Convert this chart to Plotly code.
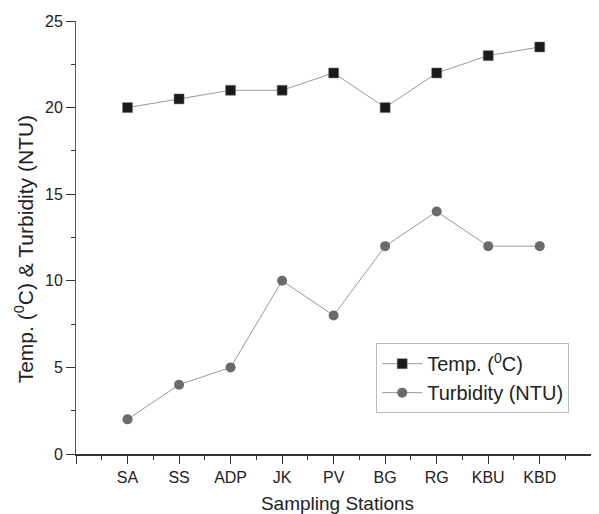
import plotly.graph_objects as go

stations = ["SA", "SS", "ADP", "JK", "PV", "BG", "RG", "KBU", "KBD"]
temp = [20, 20.5, 21, 21, 22, 20, 22, 23, 23.5]
turbidity = [2, 4, 5, 10, 8, 12, 14, 12, 12]
y_ticks = [0, 5, 10, 15, 20, 25]

xpos = list(range(len(stations)))
tickvals = [-1] + xpos + [len(stations)]
ticktext = [""] + stations + [""]

fig = go.Figure()
fig.add_trace(go.Scatter(
    x=xpos, y=temp, mode="lines+markers", name="Temp. (<sup>0</sup>C)",
    line=dict(color="#9a9a9a", width=1),
    marker=dict(symbol="square", size=10, color="#1a1a1a", line=dict(color="#777", width=0.5)),
))
fig.add_trace(go.Scatter(
    x=xpos, y=turbidity, mode="lines+markers", name="Turbidity (NTU)",
    line=dict(color="#9a9a9a", width=1),
    marker=dict(symbol="circle", size=10, color="#6b6b6b"),
))

font = "Liberation Sans, Arial, sans-serif"
# page has an 8px body margin, so the figure is shifted by 8px; compensate
fig.update_layout(
    width=591, height=506,
    margin=dict(l=68, r=0, t=13, b=60),
    paper_bgcolor="white", plot_bgcolor="white",
    font=dict(family=font, color="#222", size=16),
    showlegend=True,
    legend=dict(
        x=0.574, y=0.256, xanchor="left", yanchor="top",
        bordercolor="#bbbbbb", borderwidth=1, bgcolor="white",
        font=dict(size=20, family=font, color="#222"),
        tracegroupgap=0, itemwidth=40,
    ),
    xaxis=dict(
        range=[-1, 9.15], tickmode="array", tickvals=tickvals, ticktext=ticktext,
        showgrid=False, zeroline=False, showline=True, linecolor="#333", linewidth=1.5,
        ticks="outside", ticklen=8, tickwidth=1.2, tickcolor="#333",
        minor=dict(dtick=0.5, tick0=-1, ticks="outside", ticklen=4, tickwidth=1.2, tickcolor="#333", showgrid=False),
        tickfont=dict(size=16),
        automargin=False,
        title=dict(text="Sampling Stations", font=dict(size=19), standoff=12),
    ),
    yaxis=dict(
        range=[0, 25], tickmode="array", tickvals=y_ticks,
        showgrid=False, zeroline=False, showline=True, linecolor="#555", linewidth=1,
        ticks="outside", ticklen=9, tickwidth=1.2, tickcolor="#333",
        minor=dict(dtick=2.5, ticks="outside", ticklen=4, tickwidth=1.2, tickcolor="#333", showgrid=False),
        tickfont=dict(size=16),
        automargin=False,
    ),
    annotations=[dict(
        text="Temp. (<sup>0</sup>C) & Turbidity (NTU)", textangle=-90,
        xref="paper", yref="paper", x=-0.1, y=0.472,
        xanchor="center", yanchor="middle", showarrow=False,
        font=dict(size=21, family=font, color="#222"),
    )],
)

fig.write_html("out.html")
